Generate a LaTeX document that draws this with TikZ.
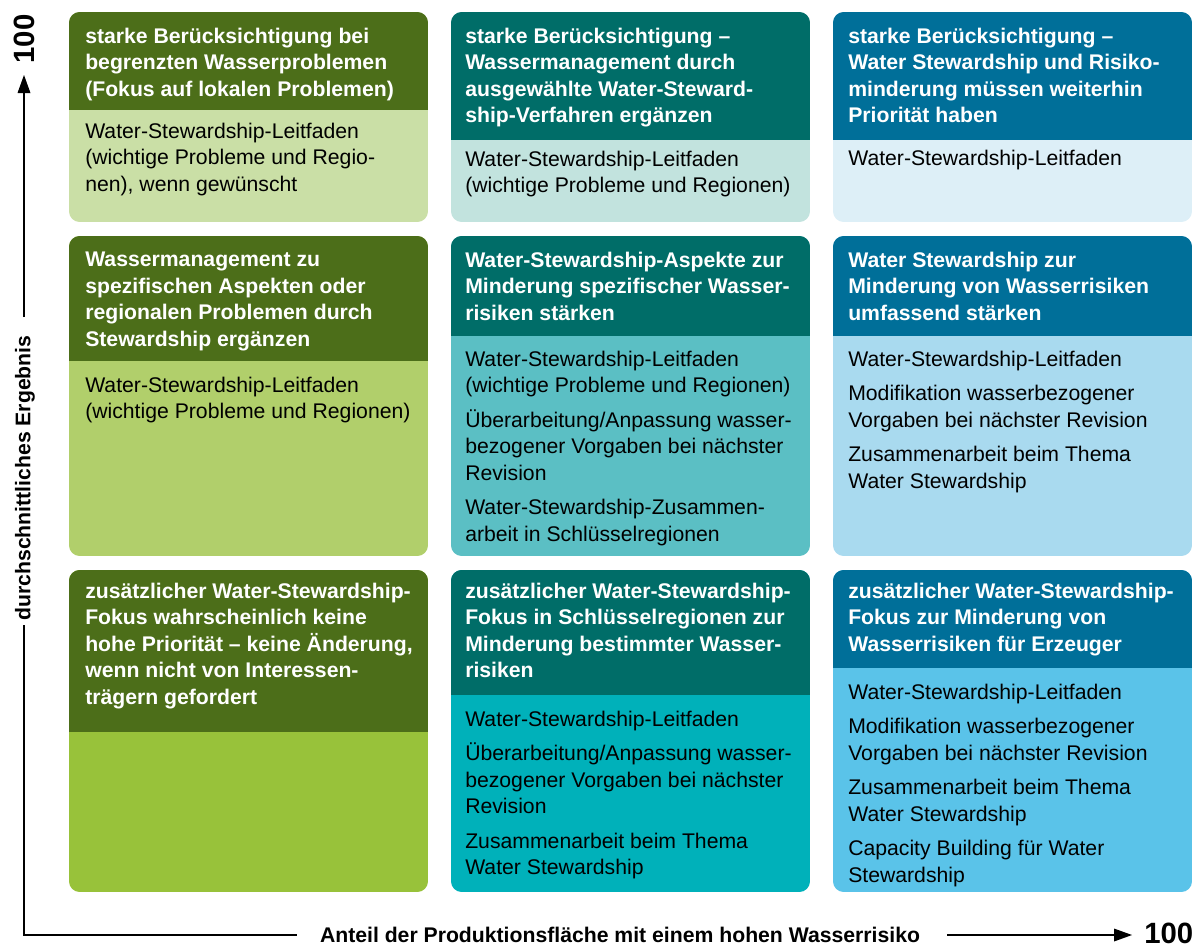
\documentclass[tikz,border=0pt]{standalone}
\usepackage{fontspec}
\setmainfont{Liberation Sans}
\definecolor{hdrgreen}{RGB}{76,110,25}
\definecolor{hdrteal}{RGB}{0,109,104}
\definecolor{hdrblue}{RGB}{0,111,153}
\definecolor{greenA}{RGB}{202,223,166}
\definecolor{greenB}{RGB}{177,207,107}
\definecolor{greenC}{RGB}{152,194,58}
\definecolor{tealA}{RGB}{194,227,222}
\definecolor{tealB}{RGB}{91,191,196}
\definecolor{tealC}{RGB}{0,177,186}
\definecolor{blueA}{RGB}{221,239,247}
\definecolor{blueB}{RGB}{169,218,239}
\definecolor{blueC}{RGB}{90,195,233}

\begin{document}
\begin{tikzpicture}[x=0.75pt,y=0.75pt,yscale=-1,xscale=1,
	hdrtext/.style={anchor=north west,align=left,inner sep=0pt,text=white,font=\fontsize{15.9}{19.9}\selectfont\bfseries},
	bodytext/.style={anchor=north west,align=left,inner sep=0pt,text=black,font=\fontsize{15.9}{19.9}\selectfont},
	axislabel/.style={inner sep=0pt,outer sep=0pt,font=\fontsize{15.9}{19.9}\selectfont\bfseries},
	maxlabel/.style={inner sep=0pt,font=\fontsize{22}{26}\selectfont\bfseries},
	axisline/.style={line width=1.5pt},
	cellclip/.style={rounded corners=8pt}]
	\useasboundingbox (0,0) rectangle (1204,947);
	\begin{scope}
	\clip [cellclip] (69,12) rectangle (428,222);
	\fill [greenA] (69,12) rectangle (428,222);
	\fill [hdrgreen] (69,12) rectangle (428,110);
	\end{scope}
	\node [hdrtext] (h11) at (85,27.7) {starke Berücksichtigung bei\\begrenzten Wasserproblemen\\(Fokus auf lokalen Problemen)};
	\node [bodytext] (b11) at (85,122.7) {Water-Stewardship-Leitfaden\\(wichtige Probleme und Regio-\\nen), wenn gewünscht};
	\begin{scope}
	\clip [cellclip] (451,12) rectangle (810,222);
	\fill [tealA] (451,12) rectangle (810,222);
	\fill [hdrteal] (451,12) rectangle (810,140);
	\end{scope}
	\node [hdrtext] (h12) at (465,27.7) {starke Berücksichtigung –\\Wassermanagement durch\\ausgewählte Water-Steward-\\ship-Verfahren ergänzen};
	\node [bodytext] (b12) at (465,150.7) {Water-Stewardship-Leitfaden\\(wichtige Probleme und Regionen)};
	\begin{scope}
	\clip [cellclip] (833,12) rectangle (1192,222);
	\fill [blueA] (833,12) rectangle (1192,222);
	\fill [hdrblue] (833,12) rectangle (1192,140);
	\end{scope}
	\node [hdrtext] (h13) at (848,27.7) {starke Berücksichtigung –\\Water Stewardship und Risiko-\\minderung müssen weiterhin\\Priorität haben};
	\node [bodytext] (b13) at (848,149.7) {Water-Stewardship-Leitfaden};
	\begin{scope}
	\clip [cellclip] (69,236) rectangle (428,556);
	\fill [greenB] (69,236) rectangle (428,556);
	\fill [hdrgreen] (69,236) rectangle (428,361);
	\end{scope}
	\node [hdrtext] (h21) at (85,251.7) {Wassermanagement zu\\spezifischen Aspekten oder\\regionalen Problemen durch\\Stewardship ergänzen};
	\node [bodytext] (b21) at (85,376.7) {Water-Stewardship-Leitfaden\\(wichtige Probleme und Regionen)};
	\begin{scope}
	\clip [cellclip] (451,236) rectangle (810,556);
	\fill [tealB] (451,236) rectangle (810,556);
	\fill [hdrteal] (451,236) rectangle (810,336);
	\end{scope}
	\node [hdrtext] (h22) at (465,251.7) {Water-Stewardship-Aspekte zur\\Minderung spezifischer Wasser-\\risiken stärken};
	\node [bodytext] (b22) at (465,350.5) {Water-Stewardship-Leitfaden\\(wichtige Probleme und Regionen)\\[6pt]Überarbeitung/Anpassung wasser-\\bezogener Vorgaben bei nächster\\Revision\\[6pt]Water-Stewardship-Zusammen-\\arbeit in Schlüsselregionen};
	\begin{scope}
	\clip [cellclip] (833,236) rectangle (1192,556);
	\fill [blueB] (833,236) rectangle (1192,556);
	\fill [hdrblue] (833,236) rectangle (1192,336);
	\end{scope}
	\node [hdrtext] (h23) at (848,251.7) {Water Stewardship zur\\Minderung von Wasserrisiken\\umfassend stärken};
	\node [bodytext] (b23) at (848,350.5) {Water-Stewardship-Leitfaden\\[6pt]Modifikation wasserbezogener\\Vorgaben bei nächster Revision\\[6pt]Zusammenarbeit beim Thema\\Water Stewardship};
	\begin{scope}
	\clip [cellclip] (69,570) rectangle (428,892);
	\fill [greenC] (69,570) rectangle (428,892);
	\fill [hdrgreen] (69,570) rectangle (428,732);
	\end{scope}
	\node [hdrtext] (h31) at (85,582.7) {zusätzlicher Water-Stewardship-\\Fokus wahrscheinlich keine\\hohe Priorität – keine Änderung,\\wenn nicht von Interessen-\\trägern gefordert};
	\begin{scope}
	\clip [cellclip] (451,570) rectangle (810,892);
	\fill [tealC] (451,570) rectangle (810,892);
	\fill [hdrteal] (451,570) rectangle (810,695);
	\end{scope}
	\node [hdrtext] (h32) at (465,582.7) {zusätzlicher Water-Stewardship-\\Fokus in Schlüsselregionen zur\\Minderung bestimmter Wasser-\\risiken};
	\node [bodytext] (b32) at (465,710.5) {Water-Stewardship-Leitfaden\\[6pt]Überarbeitung/Anpassung wasser-\\bezogener Vorgaben bei nächster\\Revision\\[6pt]Zusammenarbeit beim Thema\\Water Stewardship};
	\begin{scope}
	\clip [cellclip] (833,570) rectangle (1192,892);
	\fill [blueC] (833,570) rectangle (1192,892);
	\fill [hdrblue] (833,570) rectangle (1192,668);
	\end{scope}
	\node [hdrtext] (h33) at (848,582.7) {zusätzlicher Water-Stewardship-\\Fokus zur Minderung von\\Wasserrisiken für Erzeuger};
	\node [bodytext] (b33) at (848,683.5) {Water-Stewardship-Leitfaden\\[6pt]Modifikation wasserbezogener\\Vorgaben bei nächster Revision\\[6pt]Zusammenarbeit beim Thema\\Water Stewardship\\[6pt]Capacity Building für Water\\Stewardship};
	\coordinate (origin) at (24,935);
	\coordinate (ygap1) at (24,625);
	\coordinate (ygap2) at (24,317);
	\coordinate (yhead) at (24,90);
	\coordinate (xgap1) at (297,935);
	\coordinate (xgap2) at (947,935);
	\coordinate (xhead) at (1116,935);
	\node [axislabel, rotate=90] (ylabel) at (25,478) {durchschnittliches Ergebnis};
	\node [axislabel, anchor=base west] (xlabel) at (320,942) {Anteil der Produktionsfläche mit einem hohen Wasserrisiko};
	\node [maxlabel, rotate=90] (ymax) at (24,39) {100};
	\node [maxlabel, anchor=base west] (xmax) at (1144,943) {100};
	\draw [axisline] (ygap1) -- (origin) -- (xgap1);
	\draw [axisline] (ygap2) -- (yhead);
	\draw [axisline] (xgap2) -- (xhead);
	\draw [shift={(24,75)}, rotate=90] [fill=black] [line width=0.08] [draw opacity=0] (18,-6.5) -- (0,0) -- (18,6.5) -- cycle;
	\draw [shift={(1132,935)}, rotate=180] [fill=black] [line width=0.08] [draw opacity=0] (18,-6.5) -- (0,0) -- (18,6.5) -- cycle;
\end{tikzpicture}
\end{document}
